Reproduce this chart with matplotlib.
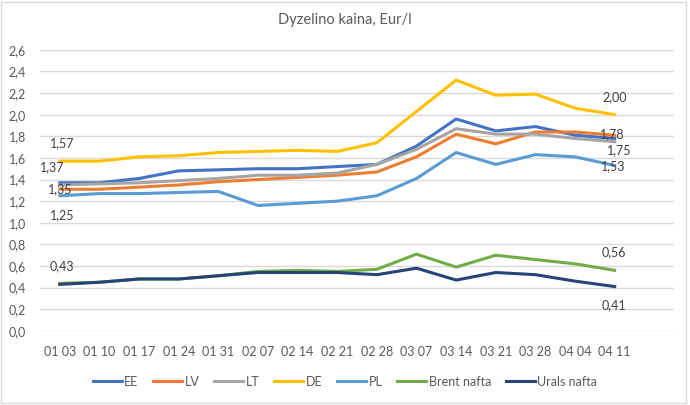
import matplotlib
matplotlib.use("Agg")
import matplotlib.pyplot as plt
from matplotlib.patches import Rectangle

dates = ["01 03", "01 10", "01 17", "01 24", "01 31", "02 07", "02 14", "02 21",
         "02 28", "03 07", "03 14", "03 21", "03 28", "04 04", "04 11"]

ee = [1.37, 1.37, 1.41, 1.48, 1.49, 1.50, 1.50, 1.52, 1.54, 1.71, 1.96, 1.85, 1.89, 1.81, 1.78]
lv = [1.31, 1.31, 1.33, 1.35, 1.38, 1.40, 1.42, 1.44, 1.47, 1.61, 1.82, 1.73, 1.84, 1.84, 1.81]
lt = [1.35, 1.36, 1.37, 1.39, 1.41, 1.44, 1.44, 1.46, 1.54, 1.68, 1.87, 1.82, 1.82, 1.78, 1.75]
de = [1.57, 1.57, 1.61, 1.62, 1.65, 1.66, 1.67, 1.66, 1.74, 2.03, 2.32, 2.18, 2.19, 2.06, 2.00]
pl = [1.25, 1.27, 1.27, 1.28, 1.29, 1.16, 1.18, 1.20, 1.25, 1.41, 1.65, 1.54, 1.63, 1.61, 1.53]
brent = [0.44, 0.45, 0.48, 0.48, 0.51, 0.55, 0.56, 0.55, 0.57, 0.71, 0.59, 0.70, 0.66, 0.62, 0.56]
urals = [0.43, 0.45, 0.48, 0.48, 0.51, 0.54, 0.54, 0.54, 0.52, 0.58, 0.47, 0.54, 0.52, 0.46, 0.41]

series = [
    ("EE", ee, "#4472C4"),
    ("LV", lv, "#ED7D31"),
    ("LT", lt, "#A5A5A5"),
    ("DE", de, "#FFC000"),
    ("PL", pl, "#5B9BD5"),
    ("Brent nafta", brent, "#70AD47"),
    ("Urals nafta", urals, "#264478"),
]

plt.rcParams['font.family'] = ['Lato', 'DejaVu Sans']
txt_color = "#595959"

fig = plt.figure(figsize=(6.9, 4.05), dpi=100)
ax = fig.add_axes([0.058, 0.183, 0.919, 0.694])

x = list(range(len(dates)))
for name, vals, col in series:
    ax.plot(x, vals, color=col, lw=2.2, label=name, solid_joinstyle="round")

# data labels (first and last points of some series)
labels = [
    (de, 0, (2, 18)), (ee, 0, (-8, 16)), (lt, 0, (0, -4)), (pl, 0, (2, -19)),
    (urals, 0, (2, 18)),
    (de, 14, (0, 18)), (ee, 14, (-2, 4)), (lt, 14, (5, -8)), (pl, 14, (-1, -1)),
    (brent, 14, (-1, 18)), (urals, 14, (-1, -19)),
]
for vals, i, off in labels:
    ax.annotate(f"{vals[i]:.2f}".replace(".", ","), xy=(i, vals[i]), xytext=off,
                textcoords="offset pixels", ha="center", va="center",
                fontsize=9, color="#404040")

ax.set_xlim(-0.5, len(dates) + 0.5)
ax.set_ylim(0, 2.6)
yt = [i * 0.2 for i in range(14)]
ax.set_yticks(yt)
ax.set_yticklabels([f"{v:.1f}".replace(".", ",") for v in yt])
ax.set_xticks(x)
ax.set_xticklabels(dates)
ax.tick_params(axis="both", length=0, labelsize=9, labelcolor=txt_color)
ax.tick_params(axis="x", pad=11)
ax.tick_params(axis="y", pad=10)
ax.grid(axis="y", color="#D9D9D9", lw=1)
ax.set_axisbelow(True)
for s in ax.spines.values():
    s.set_visible(False)

fig.text(0.5, 0.95, "Dyzelino kaina, Eur/l", ha="center", va="center",
         fontsize=10.5, color=txt_color)

ax.legend(loc="center", bbox_to_anchor=(0.5, 0.058), bbox_transform=fig.transFigure,
          ncol=7, frameon=False, fontsize=9, handlelength=2.3, handletextpad=0.2,
          columnspacing=1.2, labelcolor=txt_color)

fig.patches.append(Rectangle((0.002, 0.005), 0.992, 0.99, transform=fig.transFigure,
                             fill=False, edgecolor="#D9D9D9", lw=1))

plt.savefig("out.png", dpi=100)
